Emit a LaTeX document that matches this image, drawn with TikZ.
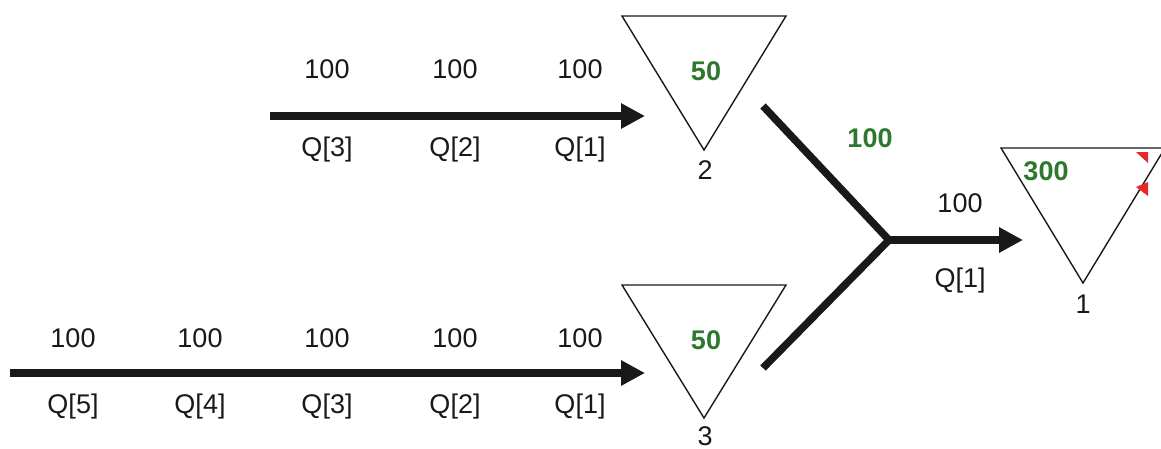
\documentclass[tikz,border=0pt]{standalone}
\usepackage{fontspec}
\setmainfont{Liberation Sans}
\usetikzlibrary{arrows.meta}
\definecolor{valgreen}{RGB}{46,120,46}
\definecolor{markred}{RGB}{230,40,40}
\tikzset{
  flow/.style={line width=7.5pt, color=black!90, -{Triangle[length=24pt,width=24pt]}},
  pipe/.style={line width=7.5pt, color=black!90},
  tank/.style={draw=black!90, line width=1.4pt, line join=miter},
  lbl/.style={font=\fontsize{27}{30}\selectfont, text=black!90, inner sep=0pt},
  val/.style={font=\fontsize{27}{30}\selectfont\bfseries, text=valgreen, inner sep=0pt},
  redmark/.style={fill=markred, draw=none}
}
\begin{document}
\begin{tikzpicture}[x=1pt,y=-1pt]
\useasboundingbox (0,0) rectangle (1161,448);
% tanks
\draw[tank] (622,16) -- (786,16) -- (704,150) -- cycle;
\draw[tank] (622,285) -- (786,285) -- (704,418) -- cycle;
\draw[tank] (1001,148) -- (1165,148) -- (1083,283) -- cycle;
\node[val] (v2) at (706,71) {50};
\node[val] (v3) at (706,340) {50};
\node[val] (v1) at (1046,171) {300};
\node[lbl] (n2) at (705,170) {2};
\node[lbl] (n3) at (705,436) {3};
\node[lbl] (n1) at (1083,304) {1};
% red marks
\fill[redmark] (1136,152) -- (1148,152) -- (1148,163) -- cycle;
\fill[redmark] (1136,187) -- (1148,182) -- (1148,196) -- cycle;
% connectors
\coordinate (s2) at (270,116);
\coordinate (e2) at (645,116);
\coordinate (s3) at (10,373);
\coordinate (e3) at (645,373);
\coordinate (a) at (763,106);
\coordinate (b) at (763,368);
\coordinate (j) at (889,240);
\coordinate (e1) at (1023,240);
\draw[flow] (s2) -- (e2);
\draw[flow] (s3) -- (e3);
\draw[pipe, line join=miter] (a) -- (j) -- (b);
\draw[flow] ([xshift=-3pt]j) -- (e1);
% top labels
\node[lbl] (t100c) at (327,69) {100};
\node[lbl] (t100b) at (455,69) {100};
\node[lbl] (t100a) at (580,69) {100};
\node[lbl] (tq3) at (327,150) {Q[3]};
\node[lbl] (tq2) at (455,150) {Q[2]};
\node[lbl] (tq1) at (580,150) {Q[1]};
% bottom labels
\node[lbl] (b100e) at (73,338) {100};
\node[lbl] (b100d) at (200,338) {100};
\node[lbl] (b100c) at (327,338) {100};
\node[lbl] (b100b) at (455,338) {100};
\node[lbl] (b100a) at (580,338) {100};
\node[lbl] (bq5) at (73,407) {Q[5]};
\node[lbl] (bq4) at (200,407) {Q[4]};
\node[lbl] (bq3) at (327,407) {Q[3]};
\node[lbl] (bq2) at (455,407) {Q[2]};
\node[lbl] (bq1) at (580,407) {Q[1]};
% junction labels
\node[val] (g100) at (870,138) {100};
\node[lbl] (o100) at (960,203) {100};
\node[lbl] (oq1) at (960,281) {Q[1]};
\end{tikzpicture}
\end{document}
